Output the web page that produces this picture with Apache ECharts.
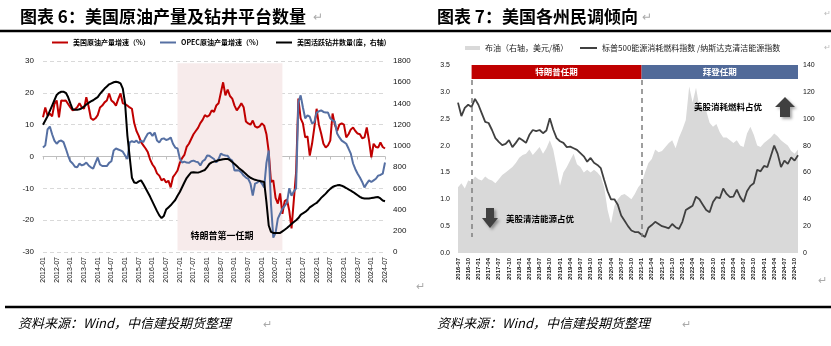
<!DOCTYPE html>
<html><head><meta charset="utf-8">
<script src="https://cdn.jsdelivr.net/npm/echarts@6/dist/echarts.min.js"></script>
<style>html,body{margin:0;padding:0;background:#fff;}#c{width:831px;height:346px;}</style>
</head><body><div id="c"></div>
<script>
function monthSeq(y, m, n){const a=[];for(let i=0;i<n;i++){const yy=y+Math.floor((m-1+i)/12);const mm=(m-1+i)%12+1;a.push(yy+'-'+String(mm).padStart(2,'0'));}return a;}

// ---- Chart 6 data (monthly, 2012-01 .. 2024-07)
const months1 = monthSeq(2012, 1, 151);
const usCrudeGrowth = [12.3,15.4,12.8,13.5,12.6,16.5,17.6,12.3,17.6,17.5,
17.6,16.5,15.4,14.5,14.8,15.5,16.7,15.5,15,18.6,
15.7,12,11.5,12,13,15.4,16,17,17.6,19.8,
17.6,17,16,18,19.8,16.7,16.5,16,15.4,15,
10.5,8,6.5,4.5,3.5,2.5,1.3,-1,-2.5,-3.5,
-5.3,-6,-7.5,-7,-8.2,-7.6,-9.7,-6.5,-5.5,-4.4,
-2,-0.5,0.5,3,4,5.5,7,8,9,10.5,
11.5,13,12.5,13,14.5,14,16,16.7,20,23.3,
19.2,21,19,18.2,16,14.5,15.5,16.7,15.5,11,
10.4,10,11.3,9.5,9.1,9.5,10.4,9.7,7,1.5,
-8,-7.5,-13,-14.8,-11.6,-18,-14,-13.5,-17,-22.6,
-13.8,-5,18.2,12,10.4,6,6.3,0.3,4,9.1,
15,10,7.2,4,2.8,3.5,5,13.5,10,8,
10,10.4,10,6,7,8.5,9.1,8,7.2,7,
5.7,6,9.1,5,-0.3,4,3,2.8,4.4,3,
2.5];
const opecGrowth = [2.8,3.5,8.5,9.4,7,5,4,4.8,5,4.5,
2.5,0.3,-1.5,-2.2,-3.2,-3.4,-2.2,-2.8,-2.5,-1.9,
-2.8,-3.4,-3.8,-2,-0.3,-2.5,-3,-3,-3,-2,
-1.5,1.9,2.5,2.2,1.9,1.5,0.3,-0.8,4.4,4.8,
4.5,5,4.2,5,4.5,6,7.2,7.5,6.5,7.5,
5,4.4,5.5,5.7,5.2,5.4,6,4,2.8,2.5,
-0.6,-1.9,-1.6,-1.9,-2,-1.5,-1.3,-1.6,-1.8,-2.8,
-1.5,-1,0.3,0.2,-0.3,-0.8,-1.9,-0.8,0.9,0.5,
0.3,0.2,-0.8,-1.3,-4.4,-4.3,-4.4,-5,-6,-6.6,
-7,-8.5,-12.3,-8.5,-8.2,-7.5,-8.5,-9.7,-2,1.9,
-15,-25.5,-24,-19.5,-18,-16.4,-15.5,-14.5,-10,-12.3,
-11,-10,17,19.2,15.4,12,12.9,12.5,10.4,10.8,
13.8,14.2,14.5,14,13.8,13.8,12,11.3,11,7.2,
6,5,4.5,4,2.5,0.9,-2.2,-4,-5.4,-6.6,
-8,-9.7,-8.5,-7.5,-8,-7.5,-7,-6,-5.8,-5.4,
-1.9];
const usOilRigs = [1200,1240,1280,1330,1380,1430,1480,1500,1510,1510,
1500,1460,1400,1345,1340,1340,1345,1355,1370,1390,
1405,1420,1430,1445,1460,1490,1515,1540,1560,1580,
1590,1600,1605,1600,1590,1540,1400,1100,900,700,
655,650,665,675,640,600,560,520,475,430,
385,345,320,340,400,420,440,465,490,530,
565,610,655,697,725,750,752,750,748,755,
765,773,800,830,845,852,858,865,870,875,
877,877,865,848,830,810,790,773,755,735,
715,700,690,680,675,670,665,660,470,250,
190,180,180,180,180,195,210,226,245,265,
283,300,320,350,365,377,395,420,435,450,
462,485,510,530,550,575,595,613,622,628,
631,625,615,603,590,578,565,550,535,520,
509,505,505,505,508,512,516,518,505,485,
478];
const trumpTerm1 = ['2016-12', '2020-10'];

// ---- Chart 7 data (monthly, 2016-07 .. 2024-11)
const months2 = monthSeq(2016, 7, 101);
const brentPrice = [49,52,48,54,53,57,55,54,57,55,
54,52,55,58,60,62,64,67,71,73,
74,77,73,76,79,74,78,84,77,64,
50,60,64,69,74,66,64,60,62,60,
62,60,57,49,32,22,35,40,43,44,
42,40,44,49,52,60,67,70,77,75,
76,79,82,84,78,86,92,99,124,112,
123,109,108,106,97,94,96,90,86,86,
84,82,84,80,79,89,94,88,80,79,
82,84,86,89,87,84,82,80,76,74,
77];
const energyCleanRatio = [2.8,2.55,2.7,2.76,2.72,2.87,2.76,2.6,2.44,2.42,
2.29,2.14,2.07,2.01,2.03,2.1,1.97,2.05,2.14,2.1,
2.05,2.2,2.29,2.27,2.29,2.23,2.28,2.51,2.3,2.14,
2.08,2.05,1.97,1.98,1.95,1.92,1.86,1.8,1.7,1.77,
1.68,1.64,1.58,1.36,1.15,1.0,1.0,0.9,0.7,0.6,
0.5,0.42,0.39,0.39,0.34,0.3,0.47,0.52,0.58,0.54,
0.5,0.48,0.46,0.54,0.48,0.45,0.58,0.8,0.84,0.88,
1.05,1.0,0.9,0.8,0.76,0.95,1.04,1.02,1.2,1.1,
1.04,1.05,1.18,1.04,0.95,1.15,1.25,1.3,1.55,1.52,
1.62,1.6,1.8,2.0,1.85,1.6,1.72,1.66,1.78,1.72,
1.82];
const trumpTerm = ['2016-11', '2021-01'];
const bidenTerm = ['2021-01', '2024-11'];

const CJK = '"Noto Sans CJK SC", "Noto Sans", sans-serif';
const LAT = 'Arial, "Liberation Sans", "Noto Sans CJK SC", sans-serif';

const chart = echarts.init(document.getElementById('c'));
const axisTxt = {color:'#111', fontFamily: LAT};

const option = {
  animation:false,
  textStyle:{fontFamily: CJK},
  grid:[
    {left:43, top:61, width:342, height:191},
    {left:458, top:65, width:340, height:188}
  ],
  legend:[
    {data:['美国原油产量增速（%）'], left:52, top:39, padding:0, icon:'rect', itemWidth:16, itemHeight:2, textStyle:{fontSize:7, fontWeight:'bold', color:'#000', fontFamily:CJK}},
    {data:['OPEC原油产量增速（%）'], left:160, top:39, padding:0, icon:'rect', itemWidth:16, itemHeight:2, textStyle:{fontSize:7, fontWeight:'bold', color:'#000', fontFamily:CJK}},
    {data:['美国活跃钻井数量(座，右轴)'], left:276, top:39, padding:0, icon:'rect', itemWidth:16, itemHeight:2, textStyle:{fontSize:7, fontWeight:'bold', color:'#000', fontFamily:CJK}},
    {data:['布油（右轴，美元/桶）'], left:465, top:44, padding:0, icon:'rect', itemWidth:15, itemHeight:4, textStyle:{fontSize:8, color:'#222', fontFamily:CJK}},
    {data:['标普500能源消耗燃料指数 /纳斯达克清洁能源指数'], left:580, top:44, padding:0, icon:'rect', itemWidth:17, itemHeight:2, textStyle:{fontSize:8, color:'#222', fontFamily:CJK}}
  ],
  xAxis:[
    {gridIndex:0, type:'category', data:months1, boundaryGap:false,
     axisLine:{show:false, onZero:false}, axisTick:{show:false},
     axisLabel:Object.assign({interval:5, rotate:90, fontSize:7, margin:5}, axisTxt), splitLine:{show:false}},
    {gridIndex:0, type:'category', data:months1, boundaryGap:false, position:'bottom',
     axisLine:{show:true, onZero:true, onZeroAxisIndex:0, lineStyle:{color:'#BFBFBF', width:1}},
     axisTick:{show:true, interval:5, length:3, lineStyle:{color:'#BFBFBF'}},
     axisLabel:{show:false}, splitLine:{show:false}},
    {gridIndex:1, type:'category', data:months2, boundaryGap:false,
     axisLine:{show:false}, axisTick:{show:false},
     axisLabel:Object.assign({interval:2, rotate:90, fontSize:6, fontWeight:'bold', margin:5}, axisTxt), splitLine:{show:false}}
  ],
  yAxis:[
    {gridIndex:0, type:'value', min:-30, max:30, interval:10,
     axisLine:{show:false}, axisTick:{show:false},
     axisLabel:Object.assign({fontSize:8, margin:9}, axisTxt),
     splitLine:{show:true, lineStyle:{type:[4,3], color:'#D9D9D9', width:1}}},
    {gridIndex:0, type:'value', position:'right', min:0, max:1800, interval:200,
     axisLine:{show:false}, axisTick:{show:false},
     axisLabel:Object.assign({fontSize:8, margin:8, formatter:v=>String(v)}, axisTxt), splitLine:{show:false}},
    {gridIndex:1, type:'value', min:0, max:3.5, interval:0.5,
     axisLine:{show:false}, axisTick:{show:false},
     axisLabel:Object.assign({fontSize:7, margin:8, formatter:v=>v.toFixed(1)}, axisTxt), splitLine:{show:false}},
    {gridIndex:1, type:'value', position:'right', min:0, max:140, interval:20,
     axisLine:{show:false}, axisTick:{show:false},
     axisLabel:Object.assign({fontSize:7, margin:5, formatter:v=>String(v)}, axisTxt), splitLine:{show:false}}
  ],
  series:[
    {name:'美国原油产量增速（%）', type:'line', xAxisIndex:0, yAxisIndex:0, data:usCrudeGrowth,
     symbol:'none', color:'#C00000', lineStyle:{color:'#C00000', width:2},
     markArea:{silent:true, itemStyle:{color:'#F7EBEB', opacity:1},
       label:{show:true, position:'insideBottom', distance:10, offset:[-8,0], color:'#000', fontSize:9, fontWeight:'bold', fontFamily:CJK},
       data:[[{name:'特朗普第一任期', xAxis:trumpTerm1[0], yAxis:29.3},{xAxis:trumpTerm1[1], yAxis:-29.5}]]}},
    {name:'OPEC原油产量增速（%）', type:'line', xAxisIndex:0, yAxisIndex:0, data:opecGrowth,
     symbol:'none', color:'#5670A3', lineStyle:{color:'#5670A3', width:2}},
    {name:'美国活跃钻井数量(座，右轴)', type:'line', xAxisIndex:0, yAxisIndex:1, data:usOilRigs,
     symbol:'none', color:'#000', lineStyle:{color:'#000', width:2}},
    {name:'布油（右轴，美元/桶）', type:'line', xAxisIndex:2, yAxisIndex:3, data:brentPrice,
     symbol:'none', color:'#D9D9D9', lineStyle:{width:0}, areaStyle:{color:'#D9D9D9', opacity:1}},
    {name:'标普500能源消耗燃料指数 /纳斯达克清洁能源指数', type:'line', xAxisIndex:2, yAxisIndex:2, data:energyCleanRatio,
     symbol:'none', color:'#404040', lineStyle:{color:'#404040', width:1.8},
     markArea:{silent:true,
       label:{show:true, position:'inside', color:'#fff', fontSize:8.5, fontWeight:'bold', fontFamily:CJK},
       data:[
         [{name:'特朗普任期', xAxis:trumpTerm[0], yAxis:3.24, itemStyle:{color:'#C00000', opacity:1}},{xAxis:trumpTerm[1], yAxis:3.5}],
         [{name:'拜登任期', xAxis:bidenTerm[0], yAxis:3.24, itemStyle:{color:'#516A99', opacity:1}},{xAxis:bidenTerm[1], yAxis:3.5}]
       ]},
     markLine:{silent:true, symbol:'none', label:{show:false},
       lineStyle:{type:[5,4], color:'#7F7F7F', width:1.5},
       data:[
         [{coord:[trumpTerm[0], 3.22]},{coord:[trumpTerm[0], 0.3]}],
         [{coord:[trumpTerm[1], 3.22]},{coord:[trumpTerm[1], 0.3]}]
       ]}}
  ],
  graphic:[
    {type:'text', z:100, left:20, top:8, style:{text:'图表 6：美国原油产量及钻井平台数量', fontSize:17, fontWeight:'bold', fill:'#000', fontFamily:CJK}},
    {type:'text', z:100, left:313, top:10, style:{text:'↵', fontSize:12, fill:'#aaa', fontFamily:CJK}},
    {type:'text', z:100, left:437, top:8, style:{text:'图表 7：美国各州民调倾向', fontSize:17, fontWeight:'bold', fill:'#000', fontFamily:CJK}},
    {type:'text', z:100, left:642, top:10, style:{text:'↵', fontSize:12, fill:'#aaa', fontFamily:CJK}},
    {type:'line', z:100, shape:{x1:0, y1:31, x2:831, y2:31}, style:{stroke:'#000', lineWidth:2.5}},
    {type:'line', z:100, shape:{x1:5, y1:307, x2:831, y2:307}, style:{stroke:'#000', lineWidth:2.5}},
    {type:'text', z:100, left:18, top:317, style:{text:'资料来源：Wind，中信建投期货整理', fontSize:13, fontStyle:'italic', fill:'#000', fontFamily:CJK}},
    {type:'text', z:100, left:263, top:318, style:{text:'↵', fontSize:11, fill:'#aaa', fontFamily:CJK}},
    {type:'text', z:100, left:437, top:317, style:{text:'资料来源：Wind，中信建投期货整理', fontSize:13, fontStyle:'italic', fill:'#000', fontFamily:CJK}},
    {type:'text', z:100, left:682, top:318, style:{text:'↵', fontSize:11, fill:'#aaa', fontFamily:CJK}},
    {type:'text', z:100, left:416, top:280, style:{text:'↵', fontSize:11, fill:'#aaa', fontFamily:CJK}},
    {type:'text', z:100, left:818, top:274, style:{text:'↵', fontSize:11, fill:'#aaa', fontFamily:CJK}},
    {type:'text', z:100, left:824, top:9, style:{text:'↵', fontSize:8, fill:'#bbb', fontFamily:CJK}},
    {type:'text', z:100, left:824, top:43, style:{text:'↵', fontSize:8, fill:'#bbb', fontFamily:CJK}},
    // annotations chart 7
    {type:'text', z:100, x:728, y:107, style:{text:'美股消耗燃料占优', fontSize:8.5, fontWeight:'bold', fill:'#000', align:'center', verticalAlign:'middle', fontFamily:CJK}},
    {type:'text', z:100, x:540, y:219, style:{text:'美股清洁能源占优', fontSize:8.5, fontWeight:'bold', fill:'#000', align:'center', verticalAlign:'middle', fontFamily:CJK}},
    {type:'polygon', z:100, shape:{points:[[775,107],[785,97],[795,107],[790,107],[790,117],[780,117],[780,107]]},
     style:{fill:'#404040', shadowBlur:3, shadowOffsetX:2, shadowOffsetY:2, shadowColor:'rgba(0,0,0,0.35)'}},
    {type:'polygon', z:100, shape:{points:[[486,208],[494,208],[494,218],[498,218],[490,228],[482,218],[486,218]]},
     style:{fill:'#404040', shadowBlur:3, shadowOffsetX:2, shadowOffsetY:2, shadowColor:'rgba(0,0,0,0.35)'}}
  ]
};
chart.setOption(option);
</script>
</body></html>
